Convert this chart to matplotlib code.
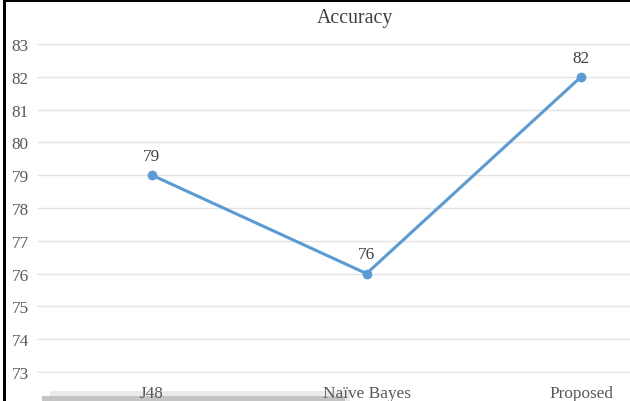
import matplotlib.pyplot as plt
from matplotlib.patches import Rectangle

categories = ["J48", "Naïve Bayes", "Proposed"]
accuracy = [79, 76, 82]
y_ticks = list(range(73, 84))

LINE_BLUE = "#5b9bd5"
TEXT_GREY = "#595959"

plt.rcParams["font.family"] = ["Liberation Serif", "DejaVu Serif"]

W, H = 630, 402
fig = plt.figure(figsize=(W / 100, H / 100), dpi=100)
fig.patch.set_facecolor("white")

# plot area in pixel terms
left, right, top, bottom = 37, 630, 44, 374
ax = fig.add_axes([left / W, 1 - bottom / H, (right - left) / W, (bottom - top) / H])
ax.set_facecolor("none")

x = list(range(len(categories)))
ax.plot(x, accuracy, color=LINE_BLUE, linewidth=2.2, marker="o",
        markersize=6, zorder=3, clip_on=False)
for xi, v in zip(x, accuracy):
    ax.annotate(str(v), (xi, v), xytext=(0, 8), textcoords="offset points",
                ha="center", va="bottom", fontsize=12.4, color="#404040")

ax.set_xlim(-0.536, 2.228)
ax.set_ylim(72.97, 83.03)
ax.set_yticks(y_ticks)
ax.set_xticks(x)
ax.set_xticklabels(categories)
ax.grid(axis="y", color="#e3e3e3", linewidth=1.0)
ax.set_axisbelow(True)
for spine in ax.spines.values():
    spine.set_visible(False)
ax.tick_params(axis="both", length=0, labelsize=12.4, labelcolor=TEXT_GREY)
ax.tick_params(axis="y", pad=6)
ax.tick_params(axis="x", pad=9)

fig.text(355 / W, 1 - 18 / H, "Accuracy", ha="center", va="center",
         fontsize=14.3, color="#404040")

# frame edges and the shadow strip along the bottom
fig.add_artist(Rectangle((3 / W, 0), 2.5 / W, 1, transform=fig.transFigure,
                         color="black", lw=0))
fig.add_artist(Rectangle((3 / W, 1 - 3 / H), 1 - 3 / W, 1.8 / H,
                         transform=fig.transFigure, color="black", lw=0))
fig.add_artist(Rectangle((50 / W, 0), 300 / W, 10 / H, transform=fig.transFigure,
                         color="#ebebe8", lw=0, zorder=-1))
fig.add_artist(Rectangle((42 / W, 0), 303 / W, 5 / H, transform=fig.transFigure,
                         color="#c4c4c4", lw=0, zorder=-1))

fig.savefig("out.png", dpi=100)
